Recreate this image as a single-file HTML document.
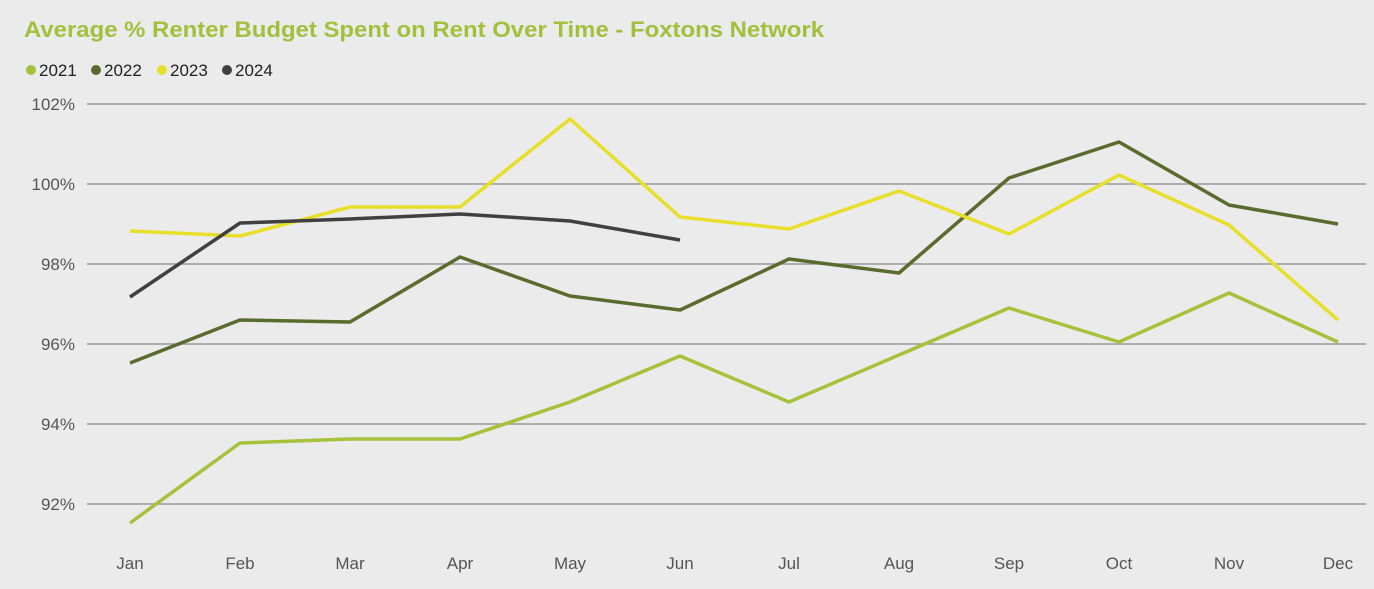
<!DOCTYPE html>
<html><head><meta charset="utf-8"><style>
body{margin:0;width:1374px;height:584px;background:#ebebeb;overflow:hidden;font-family:"Liberation Sans",sans-serif}
</style></head><body>
<svg width="1374" height="584" xmlns="http://www.w3.org/2000/svg" font-family="Liberation Sans, sans-serif">
<rect width="1374" height="584" fill="#ebebeb"/>
<text x="24" y="37" font-size="22" font-weight="bold" fill="#a3bf3b" textLength="800" lengthAdjust="spacingAndGlyphs">Average % Renter Budget Spent on Rent Over Time - Foxtons Network</text>
<g font-size="17" fill="#222">
<circle cx="31" cy="70" r="5" fill="#a5c23a"/><text x="39" y="76">2021</text>
<circle cx="96" cy="70" r="5" fill="#5a6b2e"/><text x="104" y="76">2022</text>
<circle cx="162" cy="70" r="5" fill="#e8df2a"/><text x="170" y="76">2023</text>
<circle cx="227" cy="70" r="5" fill="#404040"/><text x="235" y="76">2024</text>
</g>
<g stroke="#999" stroke-width="1.5">
<line x1="87" x2="1366" y1="104" y2="104"/><line x1="87" x2="1366" y1="184" y2="184"/><line x1="87" x2="1366" y1="264" y2="264"/><line x1="87" x2="1366" y1="344" y2="344"/><line x1="87" x2="1366" y1="424" y2="424"/><line x1="87" x2="1366" y1="504" y2="504"/>
</g>
<g font-size="17" fill="#555" text-anchor="end">
<text x="75" y="110">102%</text><text x="75" y="190">100%</text><text x="75" y="270">98%</text><text x="75" y="350">96%</text><text x="75" y="430">94%</text><text x="75" y="510">92%</text>
</g>
<g font-size="17" fill="#555" text-anchor="middle">
<text x="130" y="569">Jan</text><text x="240" y="569">Feb</text><text x="350" y="569">Mar</text><text x="460" y="569">Apr</text><text x="570" y="569">May</text><text x="680" y="569">Jun</text><text x="789" y="569">Jul</text><text x="899" y="569">Aug</text><text x="1009" y="569">Sep</text><text x="1119" y="569">Oct</text><text x="1229" y="569">Nov</text><text x="1338" y="569">Dec</text>
</g>
<g fill="none" stroke-width="3.5" stroke-linejoin="round">
<polyline stroke="#a5c23a" points="130,523 240,443 350,439 460,439 570,402 680,356 789,402 899,355 1009,308 1119,342 1229,293 1338,342"/>
<polyline stroke="#5a6b2e" points="130,363 240,320 350,322 460,257 570,296 680,310 789,259 899,273 1009,178 1119,142 1229,205 1338,224"/>
<polyline stroke="#e8df2a" points="130,231 240,236 350,207 460,207 570,119 680,217 789,229 899,191 1009,234 1119,175 1229,225 1338,320"/>
<polyline stroke="#404040" points="130,297 240,223 350,219 460,214 570,221 680,240"/>
</g>
</svg>
</body></html>
